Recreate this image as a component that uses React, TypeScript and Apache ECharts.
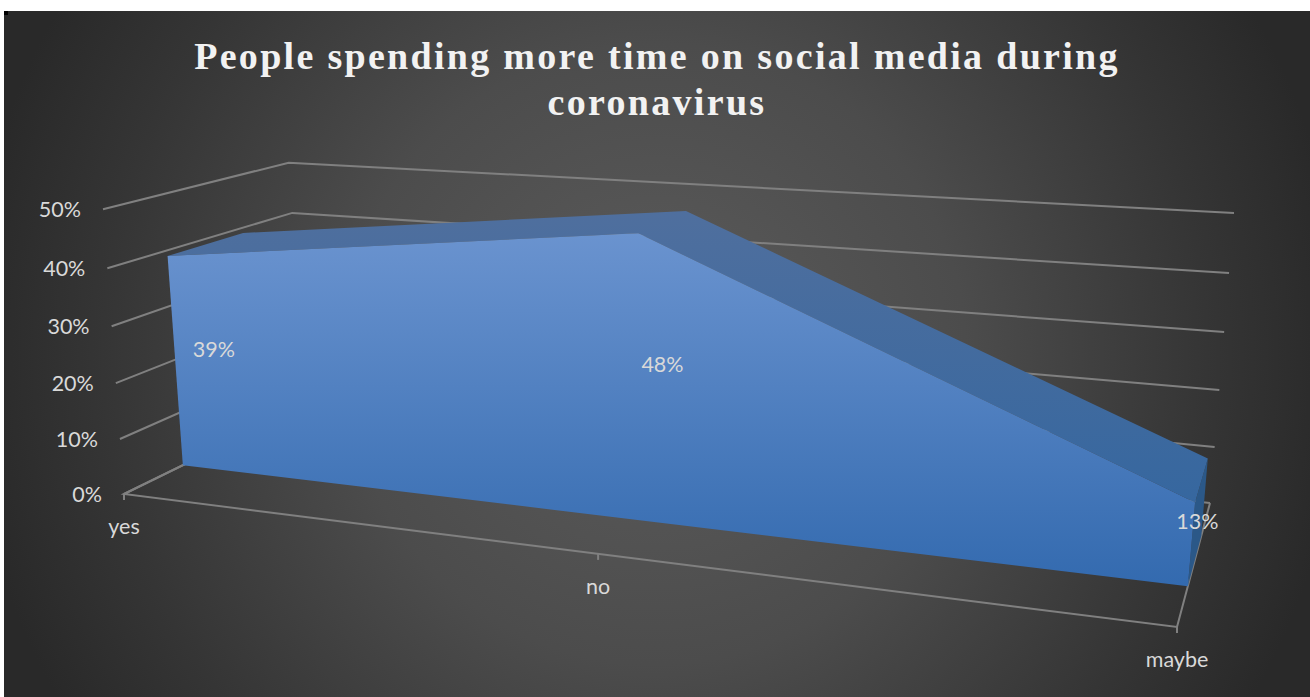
import React, { useEffect, useRef } from "react";
import * as echarts from "echarts";

const TITLE = "People spending more time on social media during\ncoronavirus";
const categories = ["yes", "no", "maybe"];
const shareValues = [39, 48, 13];
const yTicks = [0, 10, 20, 30, 40, 50];

// Flat plane of the hidden grid, in pixels.
const PLANE_W = 1000;
const PLANE_H = 500;

// Box corners on screen: floor and ceiling, [front-left, front-right, back-right, back-left].
const FLOOR = [[124, 494], [1177, 627], [1210, 503], [306, 405]];
const CEILING = [[103, 209.3], [1208, 272.5], [1234, 213], [288.7, 162.7]];

// Depth of the area's front and back faces inside the box.
const Z_FRONT = 0.29;
const Z_BACK = 0.7;
const Z_LABEL = 0.5;

function quadMap(q: number[][]) {
  const [[x0, y0], [x1, y1], [x2, y2], [x3, y3]] = q;
  const dx1 = x1 - x2, dx2 = x3 - x2, sx = x0 - x1 + x2 - x3;
  const dy1 = y1 - y2, dy2 = y3 - y2, sy = y0 - y1 + y2 - y3;
  const det = dx1 * dy2 - dx2 * dy1;
  const g = (sx * dy2 - dx2 * sy) / det;
  const h = (dx1 * sy - sx * dy1) / det;
  const a = x1 - x0 + g * x1, b = x3 - x0 + h * x3;
  const d = y1 - y0 + g * y1, e = y3 - y0 + h * y3;
  return (u: number, v: number) => {
    const w = g * u + h * v + 1;
    return [(a * u + b * v + x0) / w, (d * u + e * v + y0) / w];
  };
}

const floorAt = quadMap(FLOOR);
const ceilingAt = quadMap(CEILING);

// Perspective along the width and the height of the box.
const warp = (t: number, k: number) => (t * k) / (1 + (k - 1) * t);

function project(api: any, cat: number, value: number, z: number) {
  const [px, py] = api.coord([cat, value]);
  const s = px / PLANE_W;
  const t = warp((PLANE_H - py) / PLANE_H, 0.957);
  const f = floorAt(warp(s, 0.961), z);
  const c = ceilingAt(warp(s, 0.883), z);
  return [f[0] + (c[0] - f[0]) * t, f[1] + (c[1] - f[1]) * t];
}

const GRID_STROKE = { stroke: "#808080", lineWidth: 2, fill: "none" };
const LABEL_FONT = "21.5px Lato, 'Open Sans', sans-serif";
const LABEL_COLOR = "#d9d9d9";

function renderGridLine(_: any, api: any) {
  const v = api.value(1);
  const points = [project(api, 0, v, 0), project(api, 0, v, 1), project(api, 2, v, 1)];
  const start = points[0];
  return {
    type: "group",
    children: [
      { type: "polyline", shape: { points }, style: GRID_STROKE },
      {
        type: "text",
        style: {
          text: `${v}%`,
          x: start[0] - 22,
          y: start[1],
          align: "right",
          verticalAlign: "middle",
          font: LABEL_FONT,
          fill: LABEL_COLOR,
        },
      },
    ],
  };
}

function renderFloor(params: any, api: any) {
  const i = api.value(0);
  const tip = project(api, i, 0, 0);
  const children: any[] = [
    { type: "line", shape: { x1: tip[0], y1: tip[1], x2: tip[0], y2: tip[1] + 6 }, style: GRID_STROKE },
    {
      type: "text",
      style: {
        text: categories[i],
        x: tip[0],
        y: tip[1] + 32,
        align: "center",
        verticalAlign: "middle",
        font: LABEL_FONT,
        fill: LABEL_COLOR,
      },
    },
  ];
  if (params.dataIndex === 0) {
    children.push({
      type: "polyline",
      shape: { points: [project(api, 0, 0, 1), project(api, 0, 0, 0), project(api, 2, 0, 0), project(api, 2, 0, 1)] },
      style: GRID_STROKE,
    });
  }
  return { type: "group", children };
}

function renderArea(params: any, api: any) {
  if (params.dataIndex !== 0) return null;
  const ridge = (z: number) => shareValues.map((v, i) => project(api, i, v, z));
  const last = shareValues.length - 1;
  const front = ridge(Z_FRONT);
  const back = ridge(Z_BACK);
  const frontFace = [project(api, 0, 0, Z_FRONT), ...front, project(api, last, 0, Z_FRONT)];
  const topFace = [...front, ...back.slice().reverse()];
  const sideFace = [front[last], back[last], project(api, last, 0, Z_BACK), project(api, last, 0, Z_FRONT)];
  return {
    type: "group",
    children: [
      {
        type: "polygon",
        shape: { points: sideFace },
        style: { fill: "#2b5888" },
      },
      {
        type: "polygon",
        shape: { points: topFace },
        style: {
          fill: new echarts.graphic.LinearGradient(0, 0, 0, 1, [
            { offset: 0, color: "#4f6f9e" },
            { offset: 1, color: "#36679f" },
          ]),
        },
      },
      {
        type: "polygon",
        shape: { points: frontFace },
        style: {
          fill: new echarts.graphic.LinearGradient(0, 0, 0, 1, [
            { offset: 0, color: "#6a93cf" },
            { offset: 1, color: "#336aaf" },
          ]),
        },
      },
    ],
  };
}

function renderValueLabel(_: any, api: any) {
  const i = api.value(0);
  const v = api.value(1);
  const at = project(api, i, v / 2, Z_LABEL);
  return {
    type: "text",
    style: {
      text: `${v}%`,
      x: at[0] - 1,
      y: at[1] + 2,
      align: "center",
      verticalAlign: "middle",
      font: LABEL_FONT,
      fill: LABEL_COLOR,
    },
  };
}

const customBase = {
  type: "custom",
  coordinateSystem: "cartesian2d",
  encode: { x: 0, y: 1 },
  clip: false,
  silent: true,
};

export default function App() {
  const ref = useRef<HTMLDivElement>(null);

  useEffect(() => {
    document.body.style.margin = "0";
    const chart = echarts.init(ref.current!, undefined, { renderer: "svg" });
    chart.setOption({
      animation: false,
      backgroundColor: "#ffffff",
      title: {
        text: TITLE,
        left: 652,
        top: 28,
        textAlign: "center",
        textStyle: {
          fontFamily: "'Liberation Serif', serif",
          fontWeight: "bold",
          fontSize: 38,
          lineHeight: 46,
          color: "#f2f2f2",
        },
      },
      grid: { left: 0, top: 0, width: PLANE_W, height: PLANE_H, show: false },
      xAxis: { type: "category", data: categories, boundaryGap: false, show: false },
      yAxis: { type: "value", min: 0, max: 50, interval: 10, show: false },
      graphic: [
        {
          type: "rect",
          z: -10,
          shape: { x: 4, y: 11, width: 1306, height: 686 },
          style: {
            fill: new echarts.graphic.RadialGradient(655, 354, 690, [
              { offset: 0, color: "#5c5c5c" },
              { offset: 0.45, color: "#4c4c4c" },
              { offset: 0.8, color: "#353535" },
              { offset: 1, color: "#292929" },
            ], true),
          },
        },
        { type: "rect", z: -9, shape: { x: 4, y: 11, width: 4, height: 4 }, style: { fill: "#000000" } },
      ],
      series: [
        { ...customBase, z: 2, data: yTicks.map((v) => [0, v]), renderItem: renderGridLine },
        { ...customBase, z: 2, data: categories.map((_, i) => [i, 0]), renderItem: renderFloor },
        { ...customBase, z: 3, data: shareValues.map((v, i) => [i, v]), renderItem: renderArea },
        { ...customBase, z: 4, data: shareValues.map((v, i) => [i, v]), renderItem: renderValueLabel },
      ],
    });
    // The title's wide tracking has no text-style option, so it is set on the SVG nodes.
    ref.current!.querySelectorAll("text").forEach((node) => {
      const content = node.textContent || "";
      if (TITLE.split("\n").includes(content)) node.setAttribute("letter-spacing", "2.3");
    });
    return () => chart.dispose();
  }, []);

  return <div ref={ref} style={{ position: "fixed", left: 0, top: 0, width: 1310, height: 697 }} />;
}
